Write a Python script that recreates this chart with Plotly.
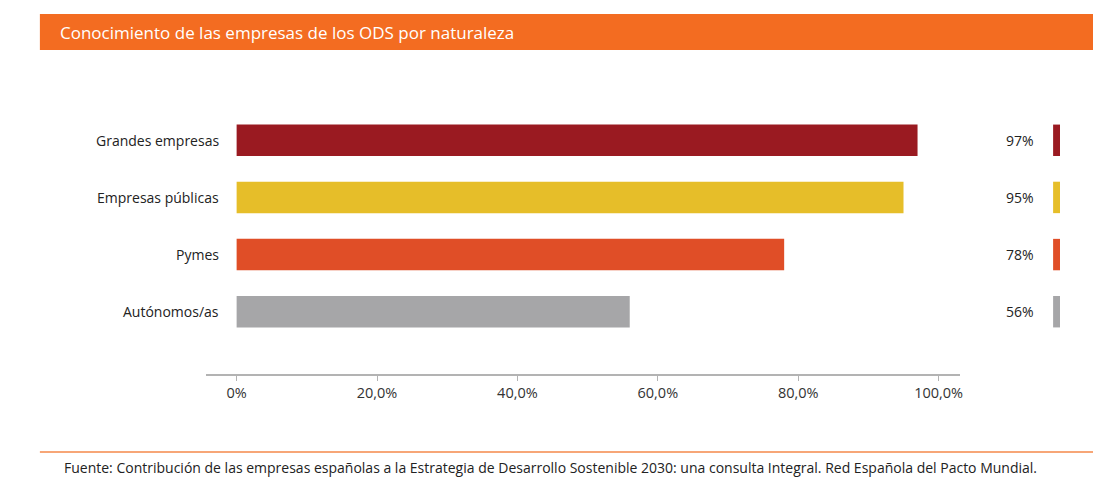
import plotly.graph_objects as go

categories = ["Grandes empresas", "Empresas públicas", "Pymes", "Autónomos/as"]
values = [97, 95, 78, 56]
value_labels = ["97%", "95%", "78%", "56%"]
colors = ["#9A1A21", "#E6BE29", "#E04E27", "#A6A6A8"]
tick_vals = [0, 20, 40, 60, 80, 100]
tick_text = ["0%", "20,0%", "40,0%", "60,0%", "80,0%", "100,0%"]

title = "Conocimiento de las empresas de los ODS por naturaleza"
source = ("Fuente: Contribución de las empresas españolas a la Estrategia de Desarrollo "
          "Sostenible 2030: una consulta Integral. Red Española del Pacto Mundial.")

W, H = 1096, 480
FONT = "Open Sans"

fig = go.Figure()
fig.add_trace(go.Bar(
    y=categories, x=values, orientation="h",
    marker=dict(color=colors, line=dict(width=0)),
    width=0.55, hoverinfo="skip", showlegend=False,
))
# small colour markers at the right
fig.add_trace(go.Bar(
    y=categories, x=[1] * len(categories), orientation="h",
    marker=dict(color=colors, line=dict(width=0)),
    width=0.55, xaxis="x2", yaxis="y", hoverinfo="skip", showlegend=False,
))

fig.update_layout(
    width=W, height=H,
    margin=dict(l=0, r=0, t=106, b=106),
    paper_bgcolor="white", plot_bgcolor="white",
    font=dict(family=FONT, size=13, color="#333333"),
    xaxis=dict(
        domain=[207 / W, 963 / W], range=[-4.3, 103.1],
        tickvals=tick_vals, ticktext=tick_text,
        showgrid=False, zeroline=False,
        showline=True, linecolor="#b3b3b3", linewidth=2,
        ticks="outside", ticklen=5, tickcolor="#b3b3b3", tickwidth=1,
        tickfont=dict(size=14.5, color="#333333"),
    ),
    xaxis2=dict(
        domain=[1056 / W, 1063 / W], range=[0, 1],
        showgrid=False, zeroline=False, showticklabels=False, showline=False,
    ),
    yaxis=dict(
        categoryorder="array", categoryarray=categories,
        range=[4.09, -0.6], showticklabels=False,
        showgrid=False, zeroline=False, showline=False,
    ),
    bargap=0.45,
)

annotations = []
for cat, lab in zip(categories, value_labels):
    annotations.append(dict(
        x=0, y=cat, xref="x", yref="y", text=cat, showarrow=False,
        xanchor="right", xshift=-16, font=dict(size=14, color="#222222"),
    ))
    annotations.append(dict(
        x=1039 / W, y=cat, xref="paper", yref="y", text=lab,
        showarrow=False, xanchor="right", font=dict(size=14, color="#222222"),
    ))

plot_h = H - 106 - 106
def py(pix):
    return (H - 106 - pix) / plot_h

annotations.append(dict(
    x=58 / W, y=py(32), xref="paper", yref="paper", text=title, showarrow=False,
    xanchor="left", yanchor="middle", font=dict(size=17, color="white"),
))
annotations.append(dict(
    x=62 / W, y=py(467), xref="paper", yref="paper", text=source, showarrow=False,
    xanchor="left", yanchor="middle", font=dict(size=14, color="#222222"),
))
fig.update_layout(annotations=annotations)

fig.add_shape(type="rect", xref="paper", yref="paper",
              x0=40 / W, x1=1.0, y0=py(50), y1=py(14),
              fillcolor="#F36C21", line=dict(width=0), layer="below")
fig.add_shape(type="line", xref="paper", yref="paper",
              x0=40 / W, x1=1.0, y0=py(452), y1=py(452),
              line=dict(color="#F5894A", width=1.5))

fig.write_html("out.html", config={"displayModeBar": False},
               post_script="document.body.style.margin='0';")
